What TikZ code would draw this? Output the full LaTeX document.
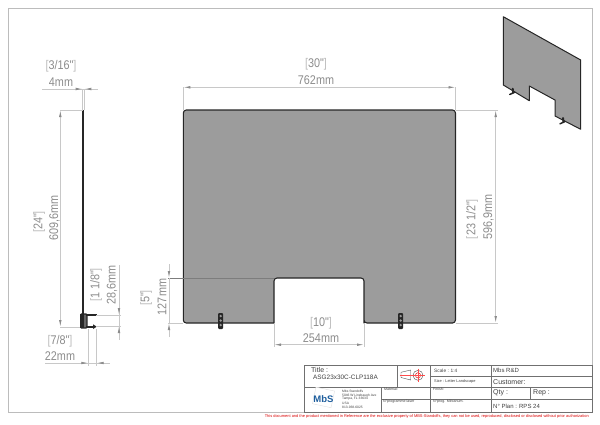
\documentclass[tikz,border=0pt]{standalone}
\usepackage{fontspec}
\setmainfont{Liberation Sans}
\newfontfamily\dimfont[FakeStretch=.86]{Liberation Sans}
\usetikzlibrary{arrows.meta}
\definecolor{panelgray}{HTML}{9C9C9C}
\definecolor{dimgray}{HTML}{C8C8C8}
\definecolor{dimtext}{HTML}{8C8C8C}
\definecolor{tolgray}{HTML}{BCBCBC}
\definecolor{blockgray}{HTML}{707070}
\definecolor{logoblue}{HTML}{1F5F9E}
\newcommand{\tol}[1]{{\color{tolgray}[}#1{\color{tolgray}]}}
\newcommand{\fs}[1]{\fontsize{#1}{#1}\selectfont}

\begin{document}
\begin{tikzpicture}[x=1pt, y=-1pt]

  \tikzstyle{frameline}=[draw=tolgray, line width=.9pt]
  \tikzstyle{panel}=[draw=black!85, line width=1.1pt, fill=panelgray, line join=round]
  \tikzstyle{dimline}=[draw=dimgray, line width=.8pt]
  \tikzstyle{dimarrow}=[dimline, -{Latex[length=7pt, width=2.6pt, color=dimtext]}]
  \tikzstyle{dimboth}=[dimline, {Latex[length=7pt, width=2.6pt, color=dimtext]}-{Latex[length=7pt, width=2.6pt, color=dimtext]}]
  \tikzstyle{dimlabel}=[text=dimtext, inner sep=0, font=\dimfont\fs{12.6}]
  \tikzstyle{vlabel}=[dimlabel, rotate=90]
  \tikzstyle{block}=[draw=blockgray, line width=.8pt]
  \tikzstyle{blocktext}=[anchor=west, inner sep=0, text=black!75]
  \tikzstyle{smalltext}=[blocktext, font=\fs{3.6}]
  \tikzstyle{clipbar}=[fill=black!85, rounded corners=1pt]

  \useasboundingbox (0,0) rectangle (600,424);

  % sheet border
  \draw [frameline] (8,412) -- (8,8) -- (592,8) -- (592,412) -- (8,412);

  % front view
  \coordinate (tl) at (183.3,110);
  \coordinate (tr) at (455.5,110);
  \coordinate (br) at (455.5,323);
  \coordinate (bl) at (183.3,323);
  \coordinate (n-bl) at (274,323);
  \coordinate (n-tl) at (274,278);
  \coordinate (n-tr) at (364,278);
  \coordinate (n-br) at (364,323);

  \draw [panel, rounded corners=3pt] (320,110) -- (tr) -- (br) -- (n-br) [sharp corners] -- (n-br) [rounded corners=3pt] -- (n-tr) -- (n-tl) -- (n-bl) [sharp corners] -- (n-bl) [rounded corners=3pt] -- (bl) -- (tl) -- cycle;

  \draw [dimline, draw=panelgray!80!black, line width=.4pt] (168,278) -- (n-tl);

  \foreach \x in {220.7,400.7} {
    \fill [clipbar] (\x-2.5,313) rectangle (\x+2.5,329);
    \foreach \y in {316,320.5,325}
      \fill [black!40] (\x,\y) circle (1.3pt);
  }

  % width
  \coordinate (w-l) at (183.3,87.3);
  \coordinate (w-r) at (455.5,87.3);
  \draw [dimline] (w-l) -- (tl);
  \draw [dimline] (w-r) -- (tr);
  \draw [dimboth] (w-l) -- (w-r);
  \node [dimlabel] (w-in) at (316,64.5) {\tol{30"}};
  \node [dimlabel] (w-mm) at (316,80) {762mm};

  % height
  \coordinate (h-t) at (495.7,110);
  \coordinate (h-b) at (495.7,323);
  \draw [dimline] (tr) -- ++(42,0);
  \draw [dimline] (br) -- ++(42,0);
  \draw [dimboth] (h-t) -- (h-b);
  \node [vlabel] (h-in) at (472,219) {\tol{23 1/2"}};
  \node [vlabel] (h-mm) at (488.5,217) {596,9mm};

  % notch width
  \coordinate (nw-l) at (274,344.7);
  \coordinate (nw-r) at (364,344.7);
  \draw [dimline] (n-bl) -- ++(0,24);
  \draw [dimline] (n-br) -- ++(0,24);
  \draw [dimboth] (nw-l) -- (nw-r);
  \node [dimlabel] (nw-in) at (321,323) {\tol{10"}};
  \node [dimlabel] (nw-mm) at (321,338) {254mm};

  % notch height
  \coordinate (nh-t) at (169,278);
  \coordinate (nh-b) at (169,323);
  \draw [dimline] (bl) -- (168,323);
  \draw [dimarrow] (169,264) -- (nh-t);
  \draw [dimarrow] (169,337) -- (nh-b);
  \draw [dimline] (nh-t) -- (nh-b);
  \node [vlabel] (nh-in) at (146,298) {\tol{5"}};
  \node [vlabel] (nh-mm) at (162,297) {127mm};

  % side view
  \coordinate (s-t) at (83.3,110);
  \coordinate (s-b) at (83.3,318);
  \draw [black!85, line width=1.9pt] (s-t) -- (s-b);
  \fill [black!60] (81,314) rectangle (87,328);
  \draw [black!85, line width=1.4pt, rounded corners=1pt] (80.7,314) rectangle (87,328);
  \fill [black!85] (80,314) rectangle (83.5,328);
  \draw [black!85, line width=1.7pt] (86,315) -- (96.5,315);
  \draw [black!85, line width=1.7pt] (86,326.7) -- (94,326.7);
  \fill [black!85] (93,324.3) -- (96.8,326.7) -- (93,329) -- cycle;

  % thickness
  \coordinate (t-l) at (82.7,89);
  \coordinate (t-r) at (84.3,89);
  \draw [dimline] (42,89) -- (98,89);
  \draw [dimline] (t-l) -- (82.7,110);
  \draw [dimline] (t-r) -- (84.3,110);
  \draw [dimarrow] (75,89) -- (t-l);
  \draw [dimarrow] (92,89) -- (t-r);
  \node [dimlabel] (t-in) at (61,66.5) {\tol{3/16"}};
  \node [dimlabel] (t-mm) at (61,82) {4mm};

  % full height
  \coordinate (f-t) at (60.3,110);
  \coordinate (f-b) at (60.3,327);
  \draw [dimline] (f-t) -- (s-t);
  \draw [dimline] (f-b) -- (80,327);
  \draw [dimboth] (f-t) -- (f-b);
  \node [vlabel] (f-in) at (39,222) {\tol{24"}};
  \node [vlabel] (f-mm) at (54.5,218) {609,6mm};

  % clip height
  \coordinate (c-t) at (119,315);
  \coordinate (c-b) at (119,326);
  \draw [dimline] (96,315) -- (121,315);
  \draw [dimline] (96,326) -- (121,326);
  \draw [dimline] (119,265) -- (119,340);
  \draw [dimarrow] (119,302) -- (c-t);
  \draw [dimarrow] (119,339) -- (c-b);
  \node [vlabel] (c-in) at (96,285) {\tol{1 1/8"}};
  \node [vlabel] (c-mm) at (112,285) {28,6mm};

  % clip width
  \coordinate (d-l) at (88.3,363);
  \coordinate (d-r) at (96.7,363);
  \draw [dimline] (88.3,329) -- (88.3,366);
  \draw [dimline] (96.7,329) -- (96.7,366);
  \draw [dimline] (45,363) -- (110,363);
  \draw [dimarrow] (81,363) -- (d-l);
  \draw [dimarrow] (104,363) -- (d-r);
  \node [dimlabel] (d-in) at (60,341) {\tol{7/8"}};
  \node [dimlabel] (d-mm) at (60,356) {22mm};

  % iso view
  \draw [panel, line width=1pt] (503.3,16.7) -- (580.7,60) -- (580.7,129.3) -- (555,116) -- (555,100) -- (529.3,86) -- (529.3,100.7) -- (503.3,85) -- cycle;
  \foreach \x/\y in {512.7/91.7,563/121} {
    \draw [black!85, line width=2pt, line cap=round] (\x,\y-3) -- (\x+.5,\y+1);
    \draw [black!85, line width=1.5pt, line cap=round] (\x-3,\y+2.8) -- (\x+2,\y+.5);
  }

  % title block
  \draw [block] (304,365) rectangle (592,412);
  \draw [block] (304,387) -- (592,387);
  \draw [block] (397,365) -- (397,387);
  \draw [block] (430.5,365) -- (430.5,412);
  \draw [block] (491,365) -- (491,412);
  \draw [block] (381,387) -- (381,412);
  \draw [block] (430.5,376) -- (592,376);
  \draw [block] (381,399) -- (592,399);
  \draw [block] (530,387) -- (530,399);

  \node [blocktext, font=\fs{7}] (title-lab) at (311,370) {Title :};
  \node [blocktext, font=\fs{6.4}] (title) at (313,377.5) {ASG23x30C-CLP118A};

  % projection symbol
  \draw [black!70, line width=.4pt] (401,372.3) -- (410.7,370) -- (410.7,380) -- (401,377.5) -- cycle;
  \draw [red!70, line width=.3pt] (399.5,375.2) -- (412,375.2);
  \draw [black!70, line width=.4pt] (418,375.3) circle (5pt);
  \draw [red!80!black, line width=.4pt] (418,375.3) circle (2.6pt);
  \draw [red!70, line width=.3pt] (412,375.3) -- (425,375.3);
  \draw [red!70, line width=.3pt] (418,368.5) -- (418,382);

  % logo
  \draw [black!12, fill=white, rotate around={-12:(324,397.5)}] (314,389) rectangle (333,406);
  \node [inner sep=0, text=logoblue, font=\fs{9.5}\bfseries] (logo) at (323.5,399) {MbS};

  \node [smalltext, font=\fs{3.3}] (a-1) at (342,391.5) {Mbs Standoffs};
  \node [smalltext, font=\fs{3.3}] (a-2) at (342,395.2) {5046 W Linebaugh Ave};
  \node [smalltext, font=\fs{3.3}] (a-3) at (342,398.9) {Tampa, FL 33634};
  \node [smalltext, font=\fs{3.3}] (a-4) at (342,402.9) {USA};
  \node [smalltext, font=\fs{3.3}] (a-5) at (342,407) {813-938-6025};

  \node [smalltext] (material) at (384,389.5) {Material:};
  \node [smalltext] (laser) at (383,402) {N°programme laser};
  \node [smalltext] (finish) at (433,389) {Finish:};
  \node [smalltext] (mecanum) at (433,402) {N°prog. Mécanum.};

  \node [blocktext, font=\fs{4.8}] (scale) at (434,370.7) {Scale : 1:4};
  \node [blocktext, font=\fs{3.9}] (size) at (434,381.3) {Size : Letter Landscape};
  \node [blocktext, font=\fs{6}] (company) at (493,370.7) {Mbs R\&D};
  \node [blocktext, font=\fs{7}] (customer) at (493,381.7) {Customer:};
  \node [blocktext, font=\fs{7}] (qty) at (493,393) {Qty :};
  \node [blocktext, font=\fs{7}] (rep) at (533,393) {Rep :};
  \node [blocktext, font=\fs{6}] (plan) at (493,406) {N° Plan : RPS 24};

  \node [anchor=east, inner sep=0, text=red!85!black, font=\fs{3.95}] (notice) at (589,416.3) {This document and the product mentioned in Reference are the exclusive property of MBS-Standoffs, they can not be used, reproduced, disclosed or disclosed without prior authorization};

\end{tikzpicture}
\end{document}
